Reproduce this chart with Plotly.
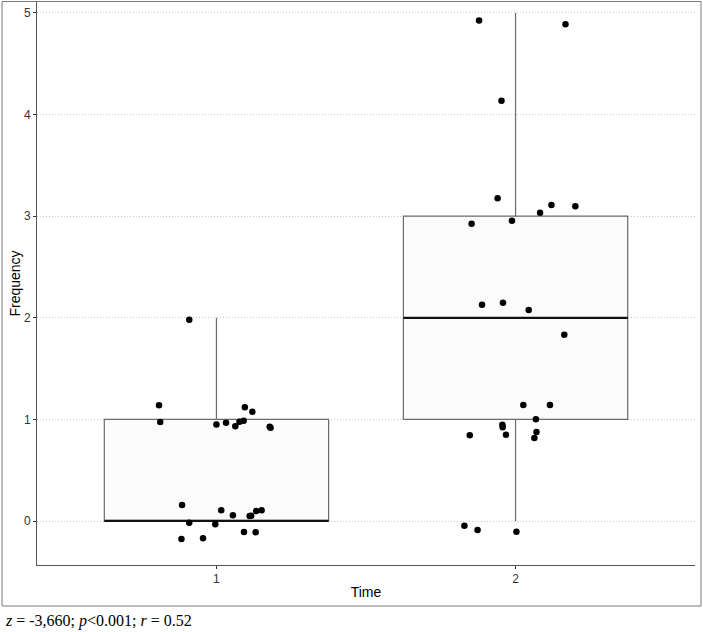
import plotly.graph_objects as go

# ---- data ----
times = [1, 2]
tick_labels = ["1", "2"]

# box statistics (Frequency by Time)
q1 = [0, 1]
median = [0, 2]
q3 = [1, 3]
lowerfence = [0, 0]
upperfence = [2, 5]

t1_jit = [-0.091, -0.192, -0.188, 0.000, 0.032, 0.063, 0.077, 0.091, 0.095, 0.120, 0.178, 0.181,
          -0.115, -0.091, 0.016, 0.055, -0.004, 0.111, 0.116, 0.133, 0.151, 0.092, 0.131, -0.117, -0.045]
t1_y = [1.98, 1.139, 0.974, 0.951, 0.968, 0.932, 0.977, 0.987, 1.119, 1.076, 0.928, 0.918,
        0.157, -0.016, 0.105, 0.056, -0.033, 0.049, 0.052, 0.098, 0.105, -0.108, -0.111, -0.177, -0.170]

t2_jit = [-0.122, 0.167, -0.047, -0.060, 0.120, 0.200, 0.082, -0.012, -0.147,
          -0.112, -0.042, 0.044, 0.163, 0.026, 0.115, 0.068, -0.044, -0.043, -0.153, -0.032,
          0.070, 0.063, -0.171, -0.127, 0.003]
t2_y = [4.925, 4.888, 4.137, 3.176, 3.110, 3.097, 3.035, 2.956, 2.926,
        2.129, 2.149, 2.077, 1.834, 1.142, 1.142, 1.001, 0.948, 0.922, 0.843, 0.849,
        0.876, 0.817, -0.046, -0.089, -0.105]

BOX_W = 0.75

fig = go.Figure()

fig.add_trace(go.Box(
    x=times, q1=q1, median=median, q3=q3,
    lowerfence=lowerfence, upperfence=upperfence,
    width=BOX_W, whiskerwidth=0, boxpoints=False,
    fillcolor="#fbfbfb", line=dict(color="#6b6b6b", width=1.2),
    showlegend=False, hoverinfo="skip",
))

# thick black median lines
for t, m in zip(times, median):
    fig.add_trace(go.Scatter(
        x=[t - BOX_W / 2, t + BOX_W / 2], y=[m, m], mode="lines",
        line=dict(color="#111111", width=2.2), showlegend=False, hoverinfo="skip",
    ))

fig.add_trace(go.Scatter(
    x=[times[0] + j for j in t1_jit] + [times[1] + j for j in t2_jit],
    y=t1_y + t2_y, mode="markers",
    marker=dict(color="black", size=6.5),
    showlegend=False, hoverinfo="skip",
))

L, R, T, B = 37, 8, 2, 67
W, H = 703, 632
pw, ph = W - L - R, H - T - B

def px_x(px):
    return (px - L) / pw

def px_y(py):
    return (H - B - py) / ph

fig.update_layout(
    width=W, height=H,
    margin=dict(l=L, r=R, t=T, b=B, pad=0),
    paper_bgcolor="white", plot_bgcolor="white",
    hovermode=False,
    font=dict(family="Liberation Sans, Arial, sans-serif", color="#000000"),
    xaxis=dict(
        range=[0.4, 2.6], tickvals=times, ticktext=tick_labels,
        showgrid=False, zeroline=False,
        showline=True, linecolor="#555555", linewidth=1,
        ticks="outside", ticklen=3, tickcolor="#333333", tickwidth=1,
        tickfont=dict(size=12, color="#333333"),
        title=dict(text="Time", font=dict(size=14, color="#000000"), standoff=1),
    ),
    yaxis=dict(
        range=[-0.433, 5.108], tickvals=[0, 1, 2, 3, 4, 5],
        showgrid=True, gridcolor="#c8c8c8", griddash="1px,2px", gridwidth=1,
        zeroline=False,
        showline=True, linecolor="#555555", linewidth=1,
        ticks="outside", ticklen=3, tickcolor="#333333", tickwidth=1,
        tickfont=dict(size=12, color="#333333"),
        title=dict(text="Frequency", font=dict(size=14, color="#000000"), standoff=0),
    ),
    shapes=[dict(
        type="rect", xref="paper", yref="paper",
        x0=px_x(2), x1=px_x(701), y0=px_y(606), y1=px_y(1.5),
        line=dict(color="#7a7a7a", width=1), fillcolor="rgba(0,0,0,0)", layer="above",
    )],
    annotations=[dict(
        xref="paper", yref="paper", x=px_x(3), y=px_y(621),
        xanchor="left", yanchor="middle", showarrow=False,
        text="<i>z</i> = -3,660; <i>p</i>&lt;0.001; <i>r</i> = 0.52",
        font=dict(family="Liberation Serif, Times New Roman, serif", size=16, color="#000000"),
    )],
)

fig.write_html(
    "out.html",
    config={"displayModeBar": False, "staticPlot": True},
    post_script="document.body.style.margin='0';document.body.style.padding='0';",
)
